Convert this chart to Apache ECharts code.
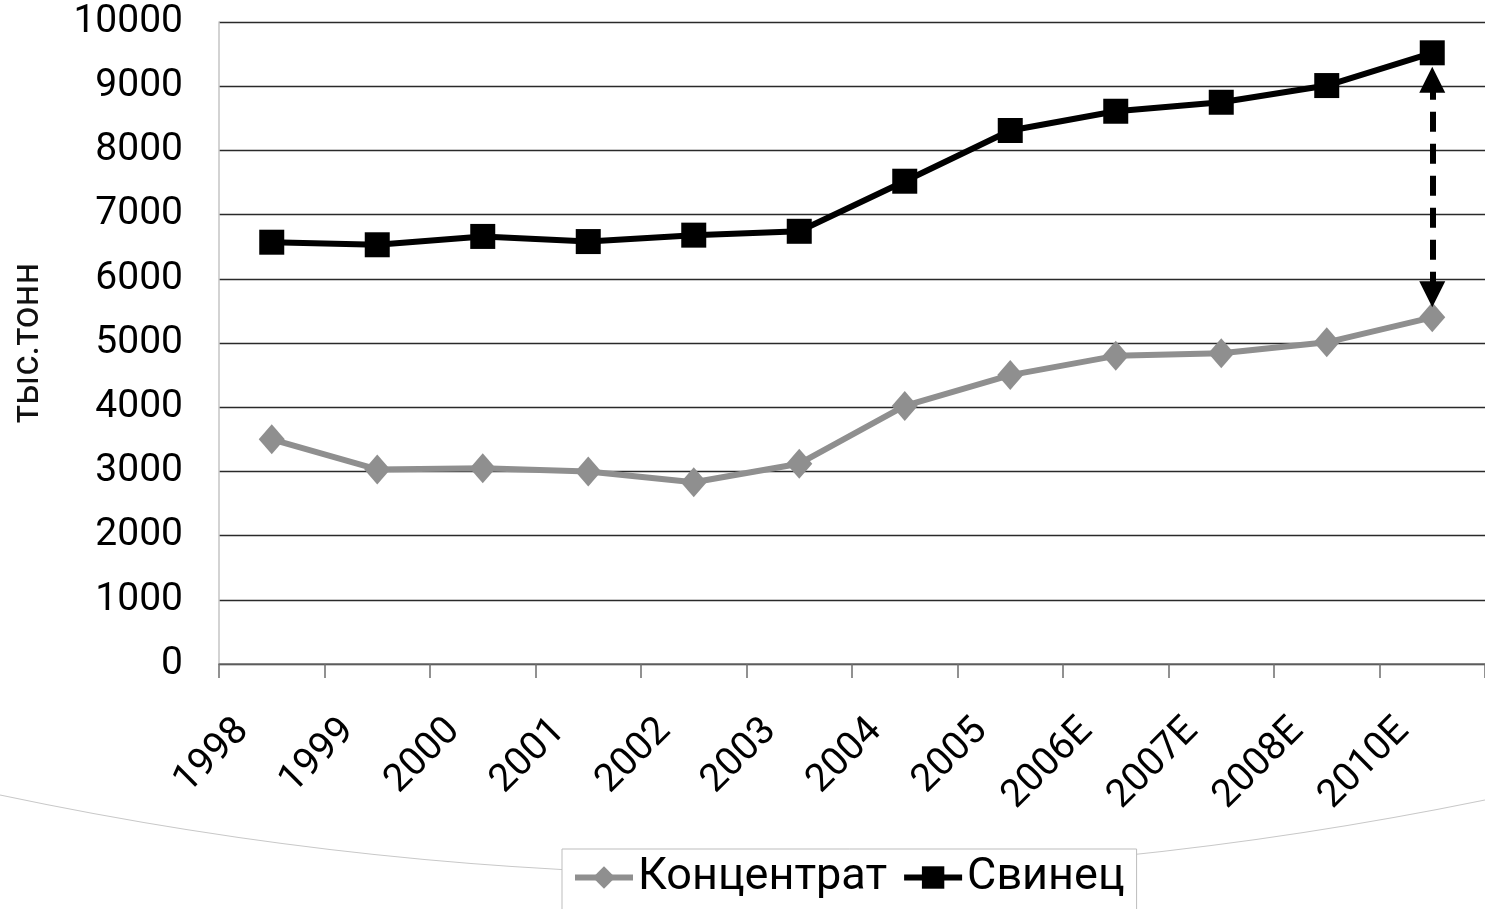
<!DOCTYPE html>
<html>
<head>
<meta charset="utf-8">
<script src="https://cdn.jsdelivr.net/npm/echarts@6/dist/echarts.min.js"></script>
<style>
  html, body { margin: 0; padding: 0; background: #fff; }
  #chart { width: 1485px; height: 909px; }
</style>
</head>
<body>
<div id="chart"></div>
<script>
// categories and values
const years = ['1998', '1999', '2000', '2001', '2002', '2003', '2004', '2005', '2006E', '2007E', '2008E', '2010E']
const concentrate = [3500, 3030, 3050, 3000, 2830, 3120, 4020, 4500, 4800, 4840, 5010, 5400]
const lead = [6570, 6530, 6660, 6580, 6680, 6740, 7520, 8310, 8610, 8750, 9010, 9520]
const yTicks = { min: 0, max: 10000, step: 1000 }

const font = 'Roboto'
const chart = echarts.init(document.getElementById('chart'))

const last = years.length - 1

let option = {
  backgroundColor: '#fff',
  animation: false,
  grid: {
    left: 219,
    right: -4,
    top: 22,
    bottom: 245,
    containLabel: false
  },
  graphic: [
    {
      type: 'bezierCurve',
      z: -1,
      silent: true,
      shape: { x1: 0, y1: 795, x2: 1485, y2: 800, cpx1: 742, cpy1: 952 },
      style: { stroke: '#c8c8c8', lineWidth: 1.2, fill: null }
    }
  ],
  legend: {
    top: 849,
    left: 562,
    backgroundColor: '#fff',
    borderColor: '#bdbdbd',
    borderWidth: 1,
    padding: [6, 12, 20, 10],
    itemGap: 14,
    itemWidth: 58,
    itemHeight: 28,
    lineStyle: { width: 6 },
    textStyle: { fontFamily: font, fontSize: 45, color: '#000' },
    data: ['Концентрат', 'Свинец']
  },
  xAxis: {
    type: 'category',
    data: years,
    boundaryGap: true,
    axisLine: { lineStyle: { color: '#6e6e6e', width: 1.5 } },
    axisTick: { show: true, length: 14, alignWithLabel: false, lineStyle: { color: '#6e6e6e', width: 1.5 } },
    axisLabel: {
      rotate: 45,
      margin: 32,
      interval: 0,
      fontFamily: font,
      fontSize: 39,
      color: '#000',
      padding: [0, 41, 0, 0]
    },
    splitLine: { show: false }
  },
  yAxis: {
    type: 'value',
    min: yTicks.min,
    max: yTicks.max,
    interval: yTicks.step,
    name: 'тыс.тонн',
    nameLocation: 'middle',
    nameRotate: 90,
    nameGap: 172,
    nameTextStyle: { fontFamily: font, fontSize: 38, color: '#111' },
    axisLine: { show: true, lineStyle: { color: '#c4c4c4', width: 1.5 } },
    axisTick: { show: false },
    axisLabel: {
      fontFamily: font,
      fontSize: 39,
      color: '#000',
      margin: 36,
      formatter: (v) => String(v)
    },
    splitLine: { lineStyle: { color: '#2a2a2a', width: 1.4 } }
  },
  series: [
    {
      name: 'Концентрат',
      type: 'line',
      data: concentrate,
      color: '#8f8f8f',
      symbol: 'diamond',
      symbolSize: [26, 30],
      lineStyle: { width: 6, color: '#8f8f8f' },
      itemStyle: { color: '#8f8f8f' },
      z: 2
    },
    {
      name: 'Свинец',
      type: 'line',
      data: lead,
      color: '#000',
      symbol: 'rect',
      symbolSize: 25,
      lineStyle: { width: 6, color: '#000' },
      itemStyle: { color: '#000', borderRadius: 2 },
      z: 3,
      markLine: {
        silent: true,
        symbol: ['triangle', 'triangle'],
        symbolSize: [26, 26],
        label: { show: false },
        lineStyle: { type: [20, 12], width: 6, color: '#000' },
        data: [
          [
            { coord: [years[last], lead[last] - 420] },
            { coord: [years[last], concentrate[last] + 360] }
          ]
        ]
      }
    }
  ]
}

chart.setOption(option)
</script>
</body>
</html>
